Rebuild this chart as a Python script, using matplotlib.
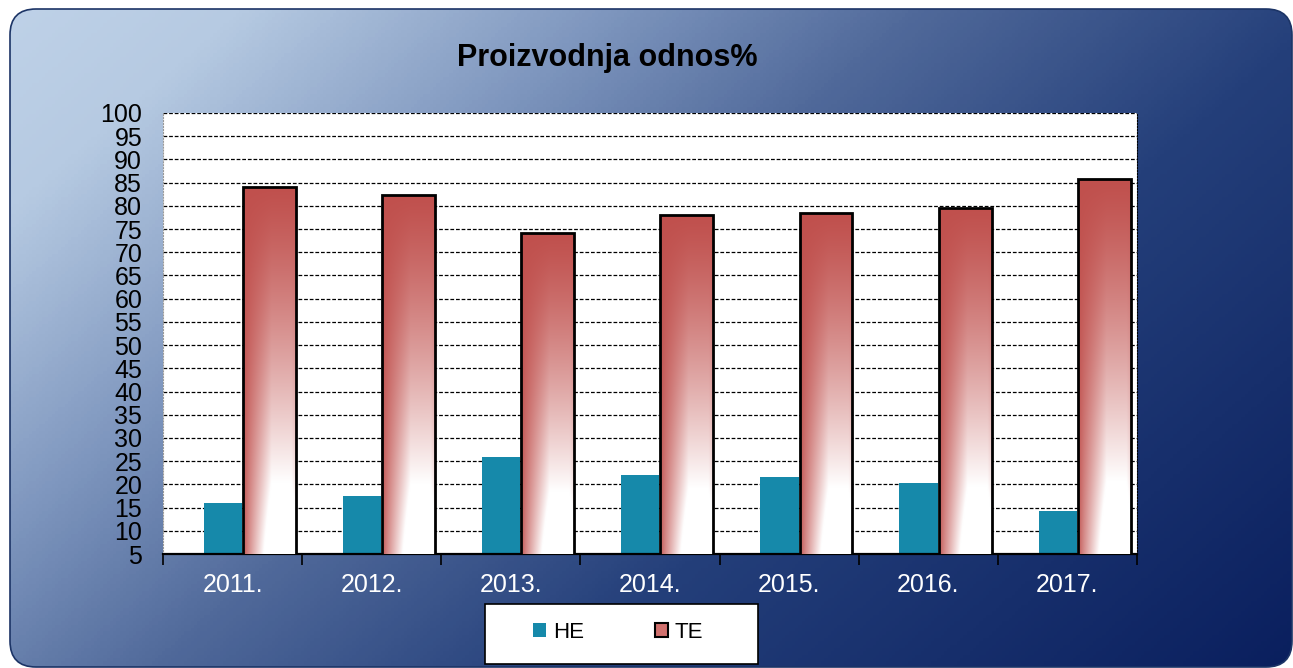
import numpy as np
import matplotlib
matplotlib.use('Agg')
import matplotlib.pyplot as plt
from matplotlib.patches import FancyBboxPatch, Rectangle, Patch
from matplotlib.colors import LinearSegmentedColormap, to_rgb

plt.rcParams['font.family'] = ['Liberation Sans', 'DejaVu Sans']

years = ['2011.', '2012.', '2013.', '2014.', '2015.', '2016.', '2017.']
he = [15.9, 17.6, 25.9, 22.0, 21.6, 20.4, 14.3]
te = [84.1, 82.4, 74.1, 78.0, 78.4, 79.6, 85.7]
yticks = list(range(5, 101, 5))

W, H = 1293, 668
fig = plt.figure(figsize=(W / 100, H / 100), dpi=100)

# background frame with gradient
bg = fig.add_axes([0, 0, 1, 1], zorder=-5)
bg.set_xlim(0, W)
bg.set_ylim(H, 0)
bg.axis('off')
cmap = LinearSegmentedColormap.from_list('bg', [
    (0.0, '#bfd2e8'), (0.12, '#b6cae2'), (0.3, '#7e96be'),
    (0.45, '#50699a'), (0.65, '#243f7a'), (1.0, '#0a1f5e')])
gx, gy = np.meshgrid(np.linspace(0, 1, 400), np.linspace(0, 1, 200))
s = (gx + 0.6 * gy) / 1.6
frame = FancyBboxPatch((10, 9), W - 11, H - 10,
                       boxstyle='round,pad=0,rounding_size=26',
                       facecolor='none', edgecolor='#1c3466', lw=1.2)
bg.add_patch(frame)
im = bg.imshow(s, cmap=cmap, extent=(0, W, H, 0), aspect='auto', zorder=0)
im.set_clip_path(frame)

ax = fig.add_axes([163 / W, 1 - 554 / H, 974 / W, 441 / H])
ax.set_facecolor('white')
x = np.arange(len(years))
ymin = 5

ax.bar(x - 0.07, he, width=0.275, color='#1689aa', zorder=2)

# TE fill: red on top, fading to white at the bottom-right
red = np.array(to_rgb('#c0504d'))
u, v = np.meshgrid(np.linspace(0, 1, 120), np.linspace(0, 1, 240))
wh = np.clip((u - 0.04) / 0.5, 0, 1) ** 0.8
wh = np.where(u > 0.92, wh * (1 - (u - 0.92) * 1.5), wh)
w = np.clip(v ** 1.2 * (0.25 + 0.75 * wh) * np.where(v > 0.5, 1, 1), 0, 1)
w = np.clip(w * (0.6 + 0.4 * wh) + v ** 2 * wh * 0.35, 0, 1)
grad = red[None, None, :] * (1 - w[..., None]) + w[..., None]

te_bars = ax.bar(x + 0.265, te, width=0.38, facecolor='none',
                 edgecolor='black', lw=2, zorder=4)
for b, val in zip(te_bars, te):
    x0 = b.get_x()
    img = ax.imshow(grad, extent=(x0, x0 + b.get_width(), ymin, val),
                    aspect='auto', zorder=3, interpolation='bilinear')
    img.set_clip_path(b)

ax.set_xlim(-0.5, len(years) - 0.5)
ax.set_ylim(ymin, 100)
ax.set_yticks(yticks)
ax.set_yticklabels([str(t) for t in yticks], fontsize=18)
ax.tick_params(axis='y', length=0, pad=15)
ax.set_xticks(x)
ax.set_xticklabels(years, fontsize=18, color='white')
ax.set_xticks(np.arange(-0.5, len(years)), minor=True)
ax.tick_params(axis='x', which='major', length=0, pad=14)
ax.tick_params(axis='x', which='minor', length=8, width=1.2, color='black')
ax.yaxis.grid(True, color='black', linestyle=(0, (3, 1.5)), lw=0.9)
ax.set_axisbelow(True)
ax.spines['top'].set_visible(False)
ax.spines['left'].set_linestyle(':')
ax.spines['left'].set_color('#999999')
ax.spines['right'].set_linestyle(':')
ax.spines['right'].set_color('black')
ax.spines['bottom'].set_linewidth(1.6)

fig.text(607 / W, 1 - 58 / H, 'Proizvodnja odnos%', ha='center', va='center',
         fontsize=22, fontweight='bold', color='black')

# legend
fig.patches.append(Rectangle((485 / W, 1 - 664 / H), 273 / W, 60 / H,
                             transform=fig.transFigure, facecolor='white',
                             edgecolor='black', lw=1.2, zorder=1))
handles = [Patch(facecolor='#1689aa', edgecolor='none'),
           Patch(facecolor='#d0706d', edgecolor='black', lw=1.5)]
fig.legend(handles, ['HE', 'TE'], loc='center', ncol=2,
           bbox_to_anchor=(618 / W, 1 - 632 / H), frameon=False,
           fontsize=16, handlelength=0.6, handleheight=0.6,
           handletextpad=0.3, columnspacing=3.2)

fig.savefig('out.png', dpi=100)
